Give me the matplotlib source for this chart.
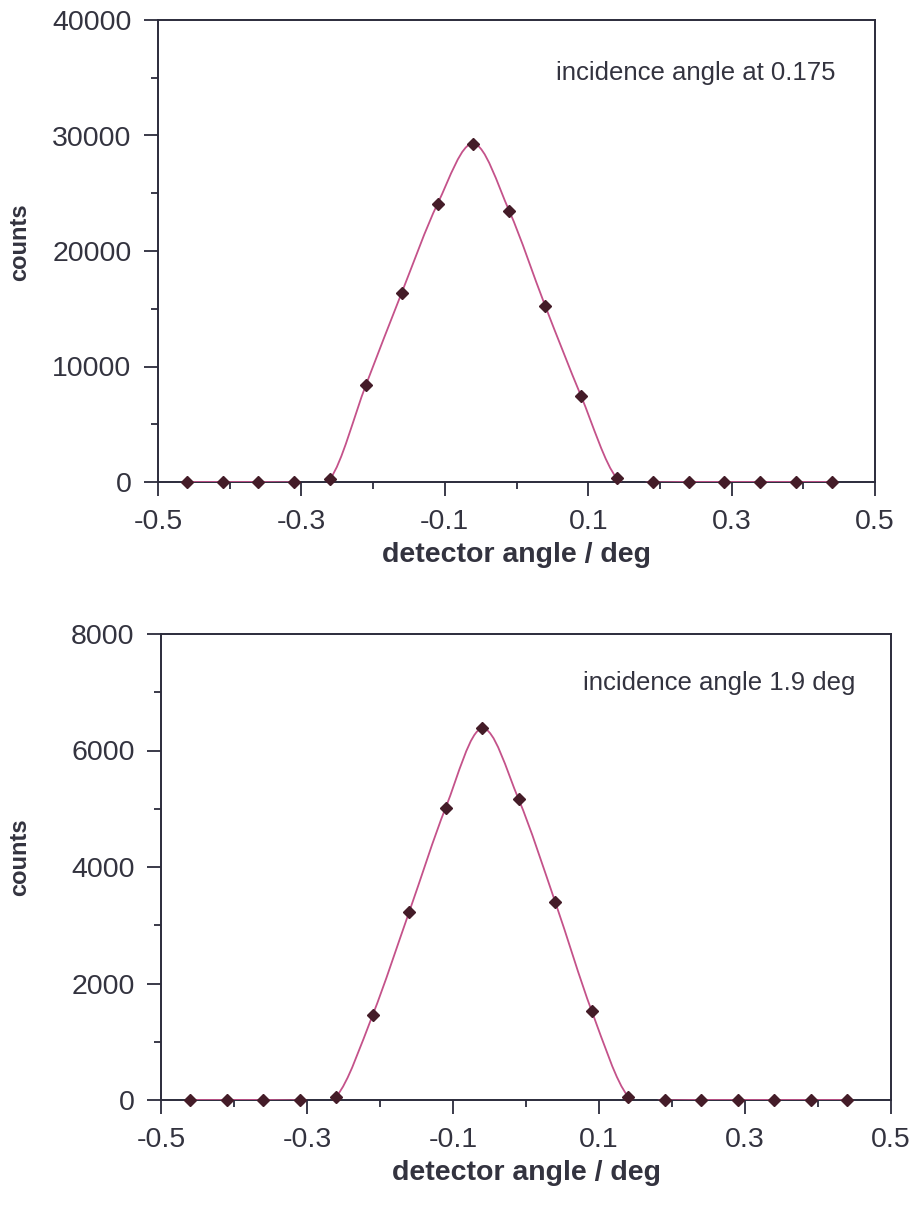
import numpy as np
import matplotlib
matplotlib.use("Agg")
import matplotlib.pyplot as plt
from matplotlib.path import Path
from matplotlib.patches import PathPatch
from matplotlib.ticker import MultipleLocator, FuncFormatter

plt.rcParams['font.family'] = ['Liberation Sans', 'DejaVu Sans']

# detector angle positions (deg)
angle = [-0.46, -0.41, -0.36, -0.31, -0.26, -0.21, -0.16, -0.11, -0.06, -0.01,
         0.04, 0.09, 0.14, 0.19, 0.24, 0.29, 0.34, 0.39, 0.44]

# counts at incidence angle 0.175
counts_low = [0, 0, 0, 0, 260, 8400, 16400, 24100, 29300, 23450,
              15250, 7450, 320, 0, 0, 0, 0, 0, 0]

# counts at incidence angle 1.9 deg
counts_high = [0, 0, 0, 0, 57, 1460, 3230, 5020, 6380, 5160,
               3400, 1530, 57, 0, 0, 0, 0, 0, 0]

labels = ["incidence angle at 0.175", "incidence angle 1.9 deg"]

LINE_C = "#c4528a"
MARK_C = "#441c28"
AX_C = "#2b2b3b"
TXT_C = "#33333f"


def smooth_path(x, y):
    """Cubic Bezier through all points (spreadsheet-style smoothed line)."""
    x = np.asarray(x, float)
    y = np.asarray(y, float)
    n = len(x)
    verts = [(x[0], y[0])]
    codes = [Path.MOVETO]
    for i in range(n - 1):
        i0 = max(i - 1, 0)
        i3 = min(i + 2, n - 1)
        c1 = (x[i] + (x[i + 1] - x[i0]) / 6, y[i] + (y[i + 1] - y[i0]) / 6)
        c2 = (x[i + 1] - (x[i3] - x[i]) / 6, y[i + 1] - (y[i3] - y[i]) / 6)
        verts += [c1, c2, (x[i + 1], y[i + 1])]
        codes += [Path.CURVE4] * 3
    return Path(verts, codes)


W, H = 917, 1208
fig = plt.figure(figsize=(W / 100, H / 100), dpi=100)
fig.patch.set_facecolor("white")

boxes = [(158, 20, 875, 482), (161, 634, 891, 1100)]
ylims = [(0, 40000, 5000, 10000), (0, 8000, 1000, 2000)]
series = [counts_low, counts_high]
note_pos = [(835, 73), (855, 683)]

for k in range(2):
    l, t, r, b = boxes[k]
    ax = fig.add_axes([l / W, 1 - b / H, (r - l) / W, (b - t) / H])
    y0, y1, ystep, ylab = ylims[k]
    ax.set_xlim(-0.5, 0.5)
    ax.set_ylim(y0, y1)

    ax.add_patch(PathPatch(smooth_path(angle, series[k]), facecolor="none",
                           edgecolor=LINE_C, lw=1.3, zorder=3))
    ax.plot(angle, series[k], linestyle="none", marker="D", markersize=6.3,
            color=MARK_C, zorder=4, clip_on=False)

    # labelled major ticks, unlabelled minor ticks in between
    ax.xaxis.set_major_locator(MultipleLocator(0.2, offset=0.1))
    ax.xaxis.set_minor_locator(MultipleLocator(0.2))
    ax.xaxis.set_major_formatter(FuncFormatter(lambda v, p: f"{v:.1f}"))
    ax.yaxis.set_major_locator(MultipleLocator(ylab))
    ax.yaxis.set_minor_locator(MultipleLocator(ystep))
    ax.yaxis.set_major_formatter(FuncFormatter(lambda v, p: f"{int(round(v))}"))

    ax.tick_params(axis="both", which="major", direction="out", length=10,
                   width=1.3, colors=AX_C, labelcolor=TXT_C, labelsize=20.5)
    ax.tick_params(axis="both", which="minor", direction="out", length=5,
                   width=1.3, colors=AX_C)
    ax.tick_params(axis="x", which="major", pad=9.5)
    ax.tick_params(axis="y", which="major", pad=9)
    for s in ax.spines.values():
        s.set_color(AX_C)
        s.set_linewidth(1.4)

    ax.set_ylabel("counts", fontsize=17, fontweight="bold", color=TXT_C, va="center")
    ax.yaxis.set_label_coords((20 - l) / (r - l), 0.52)
    ax.set_xlabel("detector angle / deg", fontsize=20.5, fontweight="bold",
                  color=TXT_C, labelpad=5)
    nx, ny = note_pos[k]
    ax.text((nx - l) / (r - l), (b - ny) / (b - t), labels[k], transform=ax.transAxes,
            ha="right", va="center", fontsize=18.5, color=TXT_C)

fig.savefig("out.png", dpi=100, facecolor="white")
